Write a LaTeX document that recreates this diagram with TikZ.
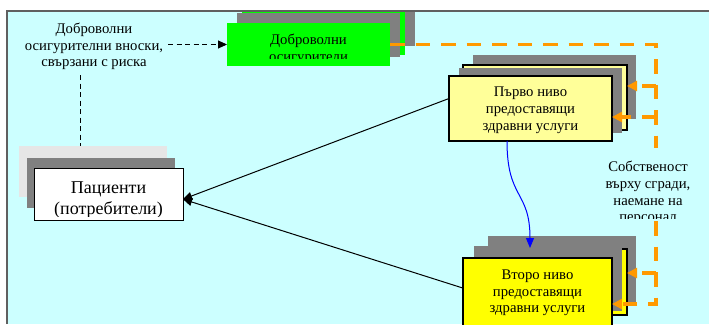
\documentclass[tikz,border=0pt]{standalone}
\usepackage{fontspec}
\setmainfont{Liberation Serif}
\usetikzlibrary{calc,arrows.meta}
\definecolor{cyanbg}{HTML}{CCFFFF}
\definecolor{lyel}{HTML}{FFFF99}
\definecolor{yel}{HTML}{FFFF00}
\definecolor{grn}{HTML}{00FF00}
\definecolor{gry}{HTML}{808080}
\definecolor{lgry}{HTML}{E6E6E6}
\definecolor{orng}{HTML}{FF9900}
\definecolor{bordcol}{HTML}{606060}
\definecolor{blu}{HTML}{0000FF}
\begin{document}
\begin{tikzpicture}[x=1pt,y=-1pt,
  rbox/.style={inner sep=0pt, outer sep=0pt, anchor=north west},
  shad/.style={rbox, fill=gry},
  txt/.style={font=\fontsize{14.7}{16.7}\selectfont, align=center, inner sep=0pt, anchor=base},
  ptxt/.style={font=\fontsize{18}{21}\selectfont, align=center, inner sep=0pt, anchor=base},
  odash/.style={draw=orng, line width=3.5pt, dash pattern=on 14.5pt off 11pt},
  otip/.style={-{Triangle[length=10pt,width=10pt]}},
  blkarrow/.style={draw=black, line width=1pt, -{Triangle[length=9pt,width=8pt]}},
  bdash/.style={draw=black, line width=0.9pt, dash pattern=on 5pt off 3.5pt},
  bluarrow/.style={draw=blu, line width=1pt, -{Triangle[length=10pt,width=8pt]}}
]
\useasboundingbox (0,0) rectangle (709,324);
% background
\fill[cyanbg] (6,10) rectangle (709,324);
\draw[bordcol, line width=1.5pt] (6.75,324) -- (6.75,10.75) -- (709,10.75);

% green stack
\node[shad, minimum width=163pt, minimum height=34pt] (gsh2) at (252,11.5) {};
\node[rbox, fill=grn, minimum width=163pt, minimum height=43pt] (gb2) at (242,12) {};
\node[shad, minimum width=163pt, minimum height=44pt] (gsh1) at (237,13) {};
\node[rbox, fill=grn, minimum width=163pt, minimum height=43pt] (g1) at (227,23) {};
\begin{scope}
  \clip (227,23) rectangle (390,58.5);
  \node[txt] (g1t) at (308.5,61.5) {Доброволни\\осигурители};
\end{scope}

% first level stack
\node[shad, minimum width=163pt, minimum height=64pt] (p1sh2) at (473,55) {};
\node[rbox, fill=lyel, draw=black, line width=1.2pt, minimum width=164pt, minimum height=65pt] (p1b) at (463,65) {};
\node[shad, minimum width=163pt, minimum height=65pt] (p1sh1) at (459,68) {};
\node[rbox, fill=lyel, draw=black, line width=1.2pt, minimum width=163pt, minimum height=65pt] (p1) at (449,76) {};
\node[txt] (p1t) at (530.5,130.1) {Първо ниво\\предоставящи\\здравни услуги};

% second level stack
\node[shad, minimum width=148pt, minimum height=66pt] (p2sh2) at (488,236) {};
\node[rbox, fill=yel, draw=black, line width=1.2pt, minimum width=149pt, minimum height=66pt] (p2b) at (478,249) {};
\node[shad, minimum width=148pt, minimum height=65pt] (p2sh1) at (474,246) {};
\node[rbox, fill=yel, draw=black, line width=1.2pt, minimum width=149pt, minimum height=68pt] (p2) at (463,258) {};
\node[txt] (p2t) at (537.5,312.8) {Второ ниво\\предоставящи\\здравни услуги};

% patients stack
\node[rbox, fill=lgry, minimum width=148pt, minimum height=51pt] (patbg) at (19,146) {};
\node[shad, minimum width=148pt, minimum height=50pt] (patsh) at (27,158) {};
\node[rbox, fill=white, draw=black, line width=1pt, minimum width=149pt, minimum height=52pt] (pat) at (34,168) {};
\begin{scope}
  \clip (34,168) rectangle (183,216.5);
  \node[ptxt] (patt) at (108.5,214) {Пациенти\\(потребители)};
\end{scope}

% left text
\node[txt] (vol) at (94,66.7) {Доброволни\\осигурителни вноски,\\свързани с риска};

% ownership text
\node[rbox, fill=cyanbg, minimum width=86pt, minimum height=73pt] (own) at (605,148) {};
\begin{scope}
  \clip (600,148) rectangle (700,218.5);
  \node[txt] (ownt) at (648,221.8) {Собственост\\върху сгради,\\наемане на\\персонал};
\end{scope}

% coordinates on the orange line
\coordinate (b1) at (656,86);
\coordinate (c1) at (656,117);
\coordinate (d1) at (656,304);
\coordinate (e1) at (656,273);

% orange connectors
\draw[odash] (g1.east) -- (g1.east -| b1) -- (own.north -| b1);
\draw[odash, otip] (b1) -- (p1b.east |- b1);
\draw[odash, otip] (c1) -- (p1.east |- c1);
\draw[odash, otip] (own.south -| d1) -- (d1) -- (p2.east |- d1);
\draw[odash, otip] (e1) -- (p2b.east |- e1);

% black connectors
\draw[blkarrow] (p1.173) -- (pat.-4);
\draw[blkarrow] (p2.177) -- (pat.-4);

% dashed black
\coordinate (va) at (168,44.5);
\draw[bdash, -{Triangle[length=9pt,width=8pt]}] (va) -- (g1.west);
\coordinate (vd) at (80,75);
\draw[bdash] (vd) -- (patbg.north -| vd);

% blue
\draw[bluarrow] ($(p1.south)+(-23.5,0)$) .. controls (507,200) and (530,190) .. ($(p2.north)+(-7.5,-10)$);
\end{tikzpicture}
\end{document}
